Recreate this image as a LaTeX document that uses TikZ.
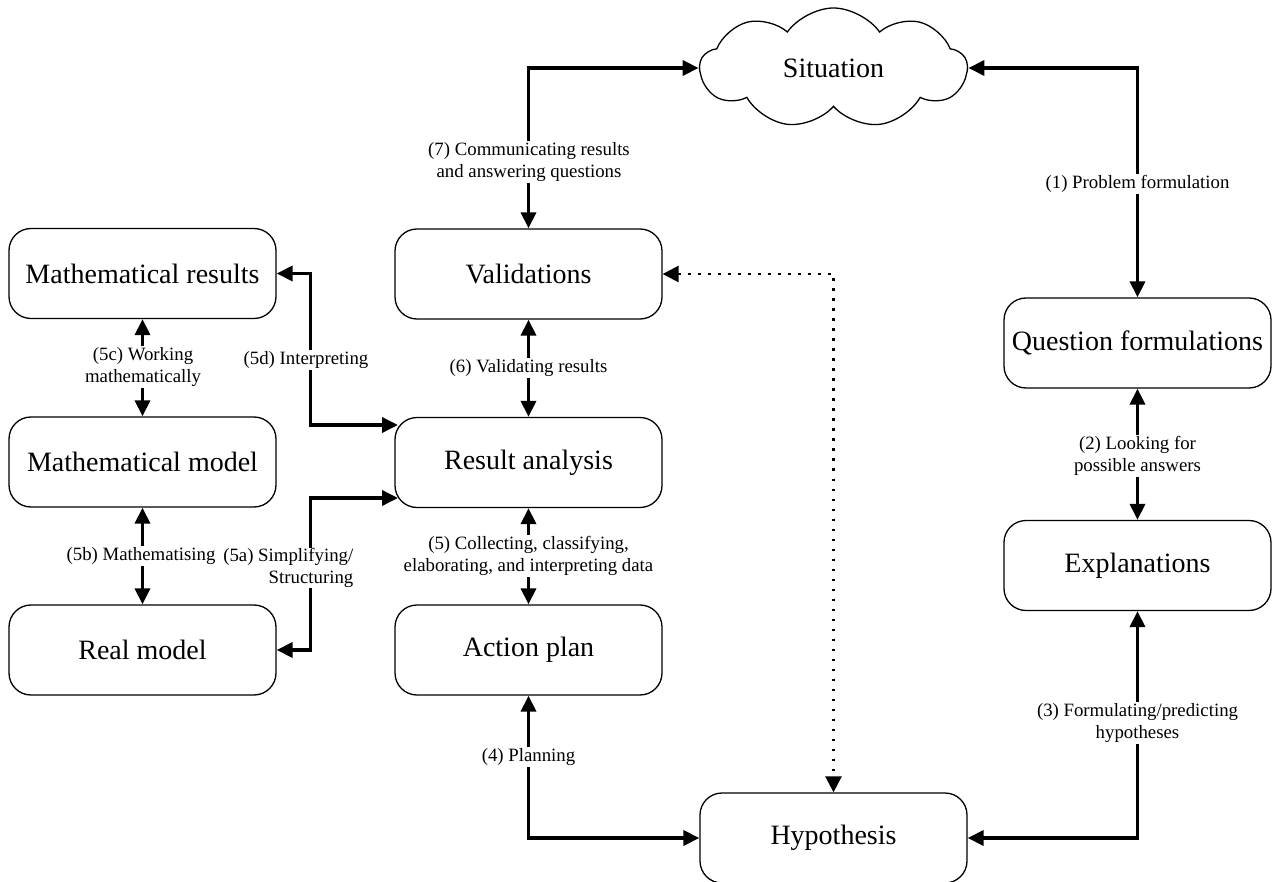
\documentclass[tikz,border=0pt]{standalone}
\usepackage{fontspec}
\setmainfont{Liberation Serif}
\usetikzlibrary{arrows.meta,shapes.symbols,calc}
\tikzset{
  box/.style={draw, line width=1.3pt, rectangle, rounded corners=22pt,
    minimum width=267pt, minimum height=90pt, inner sep=0pt,
    font=\fontsize{28}{32}\selectfont},
  cloudbox/.style={draw, line width=1.3pt, cloud, cloud puffs=9, cloud puff arc=110,
    cloud ignores aspect, minimum width=267pt, minimum height=120pt, inner sep=0pt,
    font=\fontsize{28}{32}\selectfont},
  conn/.style={line width=3.5pt, {Triangle[length=16pt,width=15pt]}-{Triangle[length=16pt,width=15pt]}},
  dotconn/.style={line width=2.6pt, dash pattern=on 2.6pt off 7.4pt,
    {Triangle[length=16pt,width=16pt]}-{Triangle[length=16pt,width=16pt]}},
  lbl/.style={fill=white, inner sep=1.5pt, align=center,
    font=\fontsize{18.8}{22}\selectfont},
}
\begin{document}
\begin{tikzpicture}[x=1pt,y=-1pt]
\useasboundingbox (0,0) rectangle (1272,882);
% nodes
\node[cloudbox] (sit) at (833.5,68) {Situation};
\node[box] (mr) at (142.5,273.5) {Mathematical results};
\node[box] (mm) at (142.5,462) {Mathematical model};
\node[box] (rm) at (142.5,650) {Real model};
\node[box] (val) at (528.5,274) {Validations};
\node[box] (ra) at (528.5,462.5) {Result analysis};
\node[box] (ap) at (528.5,650) {Action plan};
\node[box] (hyp) at (833.5,838) {Hypothesis};
\node[box] (qf) at (1137.5,343) {Question formulations};
\node[box] (ex) at (1137.5,565.5) {Explanations};
% entry points on the rounded corners of Result analysis
\coordinate (rA) at (398,425);
\coordinate (rB) at (398,498);
% connectors
\draw[conn] (val.north) |- (sit.west);
\draw[conn] (qf.north) |- (sit.east);
\draw[conn] (val.south) -- (ra.north);
\draw[conn] (ra.south) -- (ap.north);
\draw[conn] (ap.south) |- (hyp.west);
\draw[conn] (ex.south) |- (hyp.east);
\draw[conn] (qf.south) -- (ex.north);
\draw[conn] (mr.south) -- (mm.north);
\draw[conn] (mm.south) -- (rm.north);
\draw[conn] (mr.east) -- ++(34,0) |- (rA);
\draw[conn] (rm.east) -- ++(34,0) |- (rB);
\draw[dotconn] (val.east) -| (hyp.north);
% labels
\node[lbl] (l7) at (529,162) {(7) Communicating results\\and answering questions};
\node[lbl] (l1) at (1137.5,184) {(1) Problem formulation};
\node[lbl] (l6) at (528.5,368) {(6) Validating results};
\node[lbl] (l5) at (528.5,556) {(5) Collecting, classifying,\\elaborating, and interpreting data};
\node[lbl] (l4) at (528.5,757) {(4) Planning};
\node[lbl] (l3) at (1137.5,723) {(3) Formulating/predicting\\hypotheses};
\node[lbl] (l2) at (1137.5,456) {(2) Looking for\\possible answers};
\node[lbl] (l5c) at (143,367) {(5c) Working\\mathematically};
\node[lbl] (l5b) at (141,556) {(5b) Mathematising};
\node[lbl] (l5d) at (306,360) {(5d) Interpreting};
\node[lbl, align=right, anchor=east, inner sep=0.5pt] (l5a) at (354,568) {(5a) Simplifying/\\Structuring};
\end{tikzpicture}
\end{document}
